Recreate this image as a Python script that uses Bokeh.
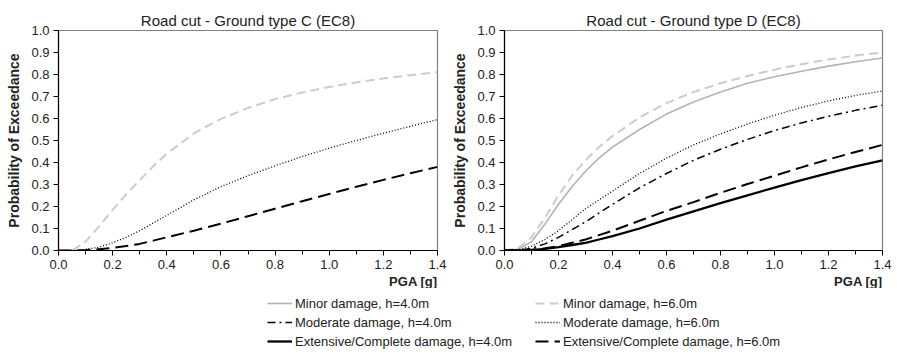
from bokeh.plotting import figure
from bokeh.layouts import column, row
from bokeh.models import (Range1d, FixedTicker, PrintfTickFormatter, Title, Legend,
                          LegendItem)
from bokeh.embed import file_html
from bokeh.resources import INLINE

# ---------------- data ----------------
pga = [0.0, 0.05, 0.1, 0.15, 0.2, 0.25, 0.3, 0.35, 0.4, 0.5, 0.6, 0.7, 0.8, 0.9,
       1.0, 1.1, 1.2, 1.3, 1.4]

# Ground type C (only h=6.0m curves)
c_minor_6 = [0, 0.0, 0.04, 0.11, 0.185, 0.255, 0.32, 0.383, 0.44, 0.532, 0.598, 0.648,
             0.688, 0.718, 0.743, 0.764, 0.782, 0.797, 0.81]
c_mod_6 = [0, 0.0, 0.005, 0.015, 0.035, 0.06, 0.09, 0.125, 0.16, 0.23, 0.29, 0.34,
           0.385, 0.427, 0.465, 0.50, 0.533, 0.565, 0.595]
c_ext_6 = [0, 0.0, 0.002, 0.006, 0.012, 0.02, 0.03, 0.045, 0.06, 0.09, 0.122, 0.156,
           0.19, 0.224, 0.257, 0.29, 0.321, 0.351, 0.38]

# Ground type D
d_minor_4 = [0, 0.005, 0.04, 0.12, 0.21, 0.29, 0.36, 0.42, 0.47, 0.55, 0.62, 0.675,
             0.72, 0.76, 0.79, 0.815, 0.838, 0.858, 0.875]
d_minor_6 = [0, 0.01, 0.06, 0.15, 0.25, 0.34, 0.41, 0.47, 0.52, 0.605, 0.67, 0.72,
             0.76, 0.793, 0.822, 0.847, 0.868, 0.886, 0.90]
d_mod_4 = [0, 0.0, 0.01, 0.03, 0.06, 0.095, 0.13, 0.17, 0.21, 0.285, 0.35, 0.41,
           0.46, 0.505, 0.545, 0.58, 0.61, 0.637, 0.66]
d_mod_6 = [0, 0.003, 0.02, 0.05, 0.09, 0.14, 0.19, 0.23, 0.27, 0.35, 0.42, 0.48,
           0.53, 0.575, 0.615, 0.65, 0.68, 0.705, 0.725]
d_ext_4 = [0, 0.0, 0.002, 0.007, 0.015, 0.025, 0.035, 0.05, 0.065, 0.10, 0.14, 0.178,
           0.215, 0.251, 0.286, 0.32, 0.352, 0.382, 0.41]
d_ext_6 = [0, 0.0, 0.003, 0.01, 0.02, 0.035, 0.05, 0.07, 0.09, 0.135, 0.18, 0.22,
           0.262, 0.302, 0.34, 0.378, 0.414, 0.448, 0.48]

x_ticks = [0.0, 0.2, 0.4, 0.6, 0.8, 1.0, 1.2, 1.4]
x_minor = [0.1, 0.3, 0.5, 0.7, 0.9, 1.1, 1.3]
y_ticks = [0.0, 0.1, 0.2, 0.3, 0.4, 0.5, 0.6, 0.7, 0.8, 0.9, 1.0]

titles = ["Road cut - Ground type C (EC8)", "Road cut - Ground type D (EC8)"]
legend_labels = ["Minor damage, h=4.0m", "Moderate damage, h=4.0m",
                 "Extensive/Complete damage, h=4.0m",
                 "Minor damage, h=6.0m", "Moderate damage, h=6.0m",
                 "Extensive/Complete damage, h=6.0m"]

FONT = "Liberation Sans"

# styles
STY = {
    "minor_4": dict(line_color="#b3b3b3", line_width=1.6),
    "mod_4": dict(line_color="#000000", line_width=1.5, line_dash="8 4 2 4"),
    "ext_4": dict(line_color="#000000", line_width=2.3),
    "minor_6": dict(line_color="#cccccc", line_width=2.0, line_dash="9 5"),
    "mod_6": dict(line_color="#000000", line_width=1.3, line_dash="1 2"),
    "ext_6": dict(line_color="#000000", line_width=2.0, line_dash="13 6"),
}


def make_panel(title, width, left, right, title_offset):
    p = figure(width=width, height=288, output_backend="svg", toolbar_location=None,
               x_range=Range1d(0, 1.4), y_range=Range1d(0, 1.0),
               min_border_left=left, min_border_right=right,
               min_border_top=30, min_border_bottom=10)
    p.title = Title(text=title, text_font=FONT, text_font_size="15px",
                    text_font_style="normal", align="center", text_color="#222222",
                    offset=title_offset, standoff=4)
    p.grid.visible = False
    p.outline_line_color = "#808080"
    p.outline_line_width = 1.2
    p.background_fill_color = "white"
    p.border_fill_color = "white"

    p.xaxis.ticker = FixedTicker(ticks=x_ticks, minor_ticks=x_minor)
    p.yaxis.ticker = FixedTicker(ticks=y_ticks)
    for ax in (p.xaxis, p.yaxis):
        ax.formatter = PrintfTickFormatter(format="%.1f")
        ax.axis_line_color = "black"
        ax.axis_line_width = 1.2
        ax.major_tick_line_color = "black"
        ax.minor_tick_line_color = "black"
        ax.major_tick_in = 0
        ax.major_tick_out = 5
        ax.minor_tick_in = 0
        ax.minor_tick_out = 4
        ax.major_label_text_font = FONT
        ax.major_label_text_font_size = "13px"
        ax.major_label_text_color = "#222222"
        ax.major_label_standoff = 4
    p.yaxis.minor_tick_line_color = None

    p.yaxis.axis_label = "Probability of Exceedance"
    p.yaxis.axis_label_text_font = FONT
    p.yaxis.axis_label_text_font_size = "14px"
    p.yaxis.axis_label_text_font_style = "bold"
    p.yaxis.axis_label_text_color = "#222222"
    p.yaxis.axis_label_standoff = 6

    p.add_layout(Title(text="PGA [g]", align="right", text_font=FONT,
                       text_font_size="13px", text_font_style="bold",
                       text_color="#222222", standoff=0), "below")
    return p


p1 = make_panel(titles[0], 447, 58, 10, -12)
p1.line(pga, c_minor_6, **STY["minor_6"])
p1.line(pga, c_mod_6, **STY["mod_6"])
p1.line(pga, c_ext_6, **STY["ext_6"])

p2 = make_panel(titles[1], 450, 57, 15, -19)
p2.line(pga, d_minor_4, **STY["minor_4"])
p2.line(pga, d_minor_6, **STY["minor_6"])
p2.line(pga, d_mod_6, **STY["mod_6"])
p2.line(pga, d_mod_4, **STY["mod_4"])
p2.line(pga, d_ext_6, **STY["ext_6"])
p2.line(pga, d_ext_4, **STY["ext_4"])

# ---------------- legend strip ----------------
# the series are drawn here outside the visible range; only their legend samples show
pl = figure(width=897, height=69, output_backend="svg", toolbar_location=None,
            x_range=Range1d(10, 11), y_range=Range1d(10, 11),
            x_axis_location=None, y_axis_location=None,
            min_border=0, outline_line_color=None)
pl.grid.visible = False

keys = ["minor_4", "mod_4", "ext_4", "minor_6", "mod_6", "ext_6"]
series = [d_minor_4, d_mod_4, d_ext_4, d_minor_6, d_mod_6, d_ext_6]
items = []
for k, ys, lab in zip(keys, series, legend_labels):
    r = pl.line(pga, ys, **STY[k])
    items.append(LegendItem(label=lab, renderers=[r]))


def mk_legend(its, loc):
    return Legend(items=its, location=loc, orientation="vertical",
                  glyph_width=25, glyph_height=16, label_height=16,
                  label_standoff=3, spacing=3, padding=0, margin=0,
                  border_line_color=None, background_fill_alpha=0,
                  label_text_font=FONT, label_text_font_size="13px",
                  label_text_color="#222222")


pl.add_layout(mk_legend(items[:3], (267, 8)))
pl.add_layout(mk_legend(items[3:], (535, 8)))

layout = column(row(p1, p2), pl)
open("out.html", "w").write(file_html(layout, INLINE))
